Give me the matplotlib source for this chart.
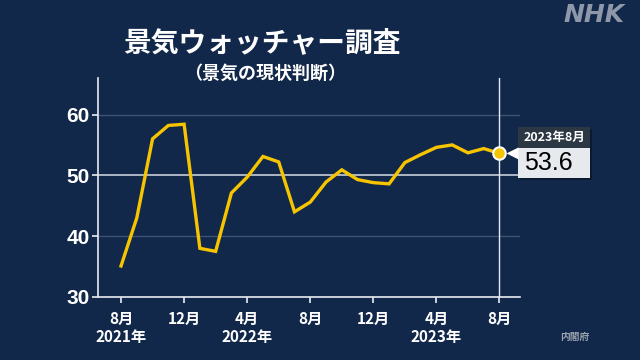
import matplotlib
matplotlib.use("Agg")
import matplotlib.pyplot as plt
from matplotlib.patches import Rectangle, Polygon

plt.rcParams['font.family'] = ['Noto Sans CJK JP', 'DejaVu Sans']

months = ["2021-08", "2021-09", "2021-10", "2021-11", "2021-12",
          "2022-01", "2022-02", "2022-03", "2022-04", "2022-05", "2022-06",
          "2022-07", "2022-08", "2022-09", "2022-10", "2022-11", "2022-12",
          "2023-01", "2023-02", "2023-03", "2023-04", "2023-05", "2023-06",
          "2023-07", "2023-08"]
values = [35.1, 43.0, 56.0, 58.2, 58.4,
          38.0, 37.5, 47.1, 49.7, 53.1, 52.2,
          44.0, 45.6, 48.9, 50.9, 49.3, 48.8,
          48.6, 52.1, 53.4, 54.6, 55.0, 53.7,
          54.4, 53.6]
tick_idx = [0, 4, 8, 12, 16, 20, 24]
tick_labels = ["8月\n2021年", "12月", "4月\n2022年", "8月", "12月", "4月\n2023年", "8月"]
yticks = [30, 40, 50, 60]
callout_date = "2023年8月"

BG = "#12284a"
LINE = "#f7c400"

fig = plt.figure(figsize=(6.4, 3.6), dpi=100)
fig.patch.set_facecolor(BG)
ax = fig.add_axes([98/640, 63/360, 422/640, 219/360])
ax.set_facecolor(BG)

x = list(range(len(values)))
ax.set_xlim(-1.46, 25.3)
ax.set_ylim(30, 66)

for yv in [40, 60]:
    ax.axhline(yv, color="#3d5272", lw=1.0, zorder=1)
ax.axhline(50, color="#c8ced8", lw=1.2, zorder=1)
ax.axvline(x[-1], color="#e8ecf2", lw=1.0, zorder=1)

ax.plot(x, values, color=LINE, lw=2.4, solid_joinstyle="miter", zorder=3)
ax.plot([x[-1]], [values[-1]], marker="o", ms=9, mfc=LINE, mec="white", mew=1.5, zorder=4)

for s in ["top", "right"]:
    ax.spines[s].set_visible(False)
for s in ["left", "bottom"]:
    ax.spines[s].set_color("#e8ecf2")
    ax.spines[s].set_linewidth(1.2)

ax.set_yticks(yticks)
ax.set_yticklabels([str(v) for v in yticks])
ax.set_xticks(tick_idx)
ax.set_xticklabels(tick_labels)
ax.tick_params(axis="y", colors="#e8ecf2", labelcolor="white", labelsize=15, length=4, width=1.2, pad=2)
ax.tick_params(axis="x", colors="#e8ecf2", labelcolor="white", labelsize=11, length=4, width=1.2, pad=6)
for lab in ax.get_yticklabels():
    lab.set_fontweight("bold")
    lab.set_family(["Liberation Sans", "DejaVu Sans"])
for lab in ax.get_xticklabels():
    lab.set_fontweight("bold")
    lab.set_linespacing(1.15)

# Titles
fig.text(262/640, 1 - 43/360, "景気ウォッチャー調査", color="white", fontsize=20,
         fontweight="bold", ha="center", va="center")
fig.text(265/640, 1 - 73/360, "（景気の現状判断）", color="white", fontsize=13,
         fontweight="bold", ha="center", va="center")
fig.text(625/640, 1 - 15/360, "NHK", color="#8e98a8", fontsize=18, fontweight="bold",
         fontstyle="italic", ha="right", va="center", family=["DejaVu Sans"])
fig.text(575/640, 1 - 337/360, "内閣府", color="#9aa3b0", fontsize=7, fontweight="bold",
         ha="center", va="center")

# Callout anchored to the last point
fig.canvas.draw()
px, py = ax.transData.transform((x[-1], values[-1]))
W, H = 640, 360
def fx(v): return v / W
def fy(v): return v / H
bx0 = px + 19
bw = 72
top_h = 21
bot_h = 30
ytop = py + 26
ymid = ytop - top_h
ybot = ymid - bot_h
shadow = Rectangle((fx(bx0 + 2), fy(ybot - 2)), fx(bw), fy(top_h + bot_h),
                   transform=fig.transFigure, facecolor="#0a1a30", edgecolor="none", zorder=5)
fig.add_artist(shadow)
fig.add_artist(Rectangle((fx(bx0), fy(ymid)), fx(bw), fy(top_h), transform=fig.transFigure,
                         facecolor="#2b3844", edgecolor="none", zorder=6))
fig.add_artist(Rectangle((fx(bx0), fy(ybot)), fx(bw), fy(bot_h), transform=fig.transFigure,
                         facecolor="#e6e9ee", edgecolor="none", zorder=6))
fig.add_artist(Polygon([(fx(px + 7), fy(py)), (fx(bx0), fy(py + 6)), (fx(bx0), fy(py - 6))],
                       closed=True, transform=fig.transFigure, facecolor="white",
                       edgecolor="none", zorder=6))
fig.text(fx(bx0 + bw / 2), fy(ymid + top_h / 2), callout_date, color="white", fontsize=9,
         fontweight="bold", ha="center", va="center", zorder=7)
fig.text(fx(bx0 + 6), fy(ybot + bot_h / 2), f"{values[-1]:.1f}", color="black", fontsize=18,
         ha="left", va="center", zorder=7, family=["Liberation Sans", "DejaVu Sans"])

fig.savefig("out.png", dpi=100, facecolor=BG)
